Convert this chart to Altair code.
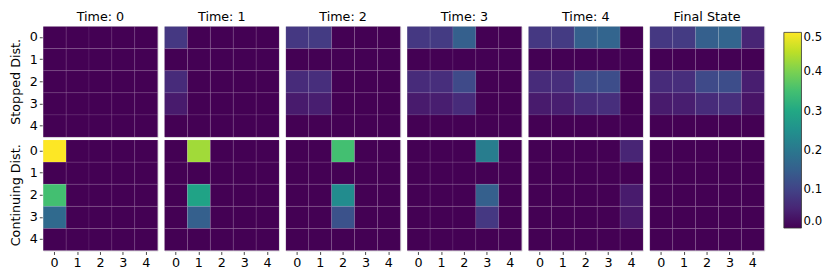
import altair as alt
import pandas as pd

times = ["Time: 0", "Time: 1", "Time: 2", "Time: 3", "Time: 4", "Final State"]
dists = ["Stopped Dist.", "Continuing Dist."]
ticks = [0, 1, 2, 3, 4]
legend_ticks = [0.0, 0.1, 0.2, 0.3, 0.4, 0.5]

Z = [0, 0, 0, 0, 0]

stopped = [
    [Z, Z, Z, Z, Z],
    [[0.08, 0, 0, 0, 0], Z, [0.06, 0, 0, 0, 0], [0.035, 0, 0, 0, 0], Z],
    [[0.08, 0.085, 0, 0, 0], Z, [0.06, 0.065, 0, 0, 0], [0.035, 0.04, 0, 0, 0], Z],
    [[0.08, 0.085, 0.15, 0, 0], Z, [0.06, 0.065, 0.11, 0, 0], [0.035, 0.04, 0.06, 0, 0], Z],
    [[0.08, 0.085, 0.15, 0.16, 0], Z, [0.06, 0.065, 0.11, 0.115, 0], [0.035, 0.04, 0.06, 0.065, 0], Z],
    [[0.08, 0.085, 0.15, 0.16, 0.05], Z, [0.06, 0.065, 0.11, 0.115, 0.04], [0.035, 0.04, 0.06, 0.065, 0.025], Z],
]

continuing = [
    [[0.5, 0, 0, 0, 0], Z, [0.35, 0, 0, 0, 0], [0.17, 0, 0, 0, 0], Z],
    [[0, 0.43, 0, 0, 0], Z, [0, 0.29, 0, 0, 0], [0, 0.15, 0, 0, 0], Z],
    [[0, 0, 0.35, 0, 0], Z, [0, 0, 0.24, 0, 0], [0, 0, 0.125, 0, 0], Z],
    [[0, 0, 0, 0.21, 0], Z, [0, 0, 0, 0.15, 0], [0, 0, 0, 0.08, 0], Z],
    [[0, 0, 0, 0, 0.05], Z, [0, 0, 0, 0, 0.035], [0, 0, 0, 0, 0.03], Z],
    [Z, Z, Z, Z, Z],
]

rows = []
for ti, t in enumerate(times):
    for dname, mats in ((dists[0], stopped), (dists[1], continuing)):
        m = mats[ti]
        for r in range(5):
            for c in range(5):
                rows.append({"time": t, "dist": dname, "r": ticks[r], "c": ticks[c], "v": m[r][c]})
df = pd.DataFrame(rows)

PW = 117
PH = 113

axis_common = dict(
    labelFontSize=13, labelColor="black", labelFont="DejaVu Sans",
    domain=False, tickColor="#444", tickSize=3, labelAngle=0, title=None,
    grid=False, labelPadding=2,
)

base = alt.Chart(df).mark_rect(stroke="white", strokeOpacity=0.08, strokeWidth=1).encode(
    x=alt.X("c:O", scale=alt.Scale(paddingInner=0, paddingOuter=0), axis=alt.Axis(**axis_common)),
    y=alt.Y("r:O", scale=alt.Scale(paddingInner=0, paddingOuter=0), axis=alt.Axis(**axis_common)),
    color=alt.Color(
        "v:Q",
        scale=alt.Scale(scheme="viridis", domain=[0, 0.5]),
        legend=alt.Legend(
            title=None, orient="none", legendX=757, legendY=6,
            direction="vertical",
            gradientLength=200, gradientThickness=18,
            values=legend_ticks, format=".1f", labelFontSize=12,
            labelColor="black", labelFont="DejaVu Sans", labelOverlap=False,
            labelBaseline="middle", labelOffset=2,
            gradientStrokeColor="#333", gradientStrokeWidth=0.8,
        ),
    ),
).properties(width=PW, height=PH)

chart = base.facet(
    row=alt.Row("dist:N", sort=dists, title=None,
                header=alt.Header(labelAngle=-90, labelOrient="left", labelFontSize=13,
                                  labelFont="DejaVu Sans", labelColor="black", labelPadding=0,
                                  labelFontWeight="normal")),
    column=alt.Column("time:N", sort=times, title=None,
                      header=alt.Header(labelFontSize=13, labelFont="DejaVu Sans",
                                        labelColor="black", labelPadding=2,
                                        labelFontWeight="normal")),
    spacing={"row": 1, "column": 5},
).properties(padding={"left": 2, "top": 0, "right": 0, "bottom": 0}).configure_view(
    stroke="#b9a7c6", strokeWidth=1
).configure(background="white")

chart.save("out.html", embed_options={"renderer": "svg", "actions": False})
